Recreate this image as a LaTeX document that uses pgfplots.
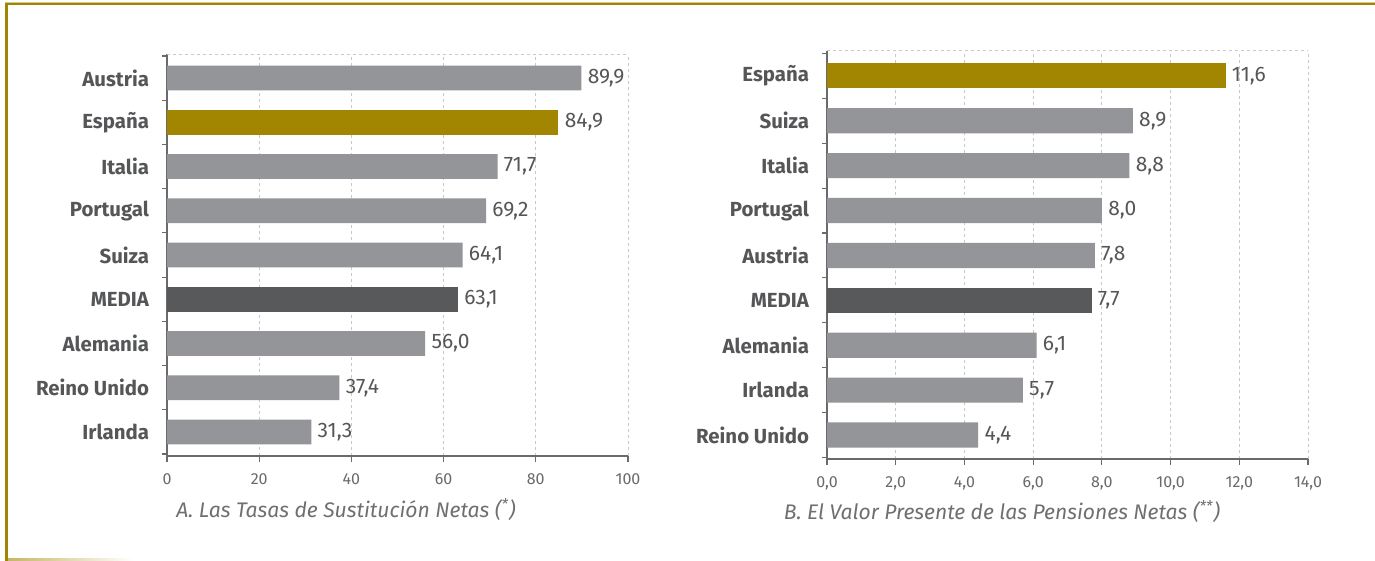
\documentclass[border=0pt]{standalone}
\usepackage{fontspec}
\setmainfont{Fira Sans}
\usepackage{pgfplots}
\pgfplotsset{compat=1.18}
\definecolor{gold}{RGB}{162,133,0}
\definecolor{bargray}{RGB}{147,149,152}
\definecolor{bardark}{RGB}{88,89,91}
\definecolor{txtgray}{RGB}{85,86,88}
\definecolor{axgray}{RGB}{105,106,108}
\definecolor{capgray}{RGB}{110,111,113}
\definecolor{gridgray}{RGB}{200,200,200}
\pgfplotsset{
  bstyle/.style={
    scale only axis, anchor=south west,
    xbar, bar width=0.56, bar shift=0pt,
    axis x line*=bottom, axis y line*=left,
    axis line style={axgray, line width=0.7pt},
    tick align=outside,
    major tick length=3pt, minor tick length=2.5pt,
    tick style={axgray, line width=0.6pt},
    every major y tick/.append style={draw=none},
    ytick={0,...,8},
    minor ytick={-0.5,0.5,...,8.5},
    xmajorgrids,
    grid style={gridgray, dash pattern=on 1.5pt off 1.5pt, line width=0.5pt},
    yticklabel style={font=\bfseries\fontsize{10.2}{12}\selectfont, text=txtgray, xshift=-2.5pt},
    xticklabel style={font=\fontsize{8}{9}\selectfont, text=axgray, yshift=-2.5pt},
    /pgf/number format/assume math mode=true,
    point meta=x,
    nodes near coords={\pgfmathprintnumber[fixed,fixed zerofill,precision=1,use comma]{\pgfplotspointmeta}},
    nodes near coords style={font=\fontsize{10.5}{12}\selectfont, text=txtgray, anchor=west, inner xsep=3pt},
    clip=false,
  }
}
\begin{document}
\begin{tikzpicture}
\useasboundingbox (0pt,0pt) rectangle (687.5pt,280.5pt);
\fill[white] (0pt,0pt) rectangle (687.5pt,280.5pt);
% frame
\fill[gold] (2.5pt,278pt) rectangle (687.5pt,279pt);
\fill[gold!45] (2.5pt,279pt) rectangle (687.5pt,279.5pt);
\fill[gold] (2.5pt,0pt) rectangle (4pt,279pt);
\shade[left color=gold!60, right color=white] (4pt,0.3pt) rectangle (66.5pt,1.3pt);

% ---------- Chart A ----------
\begin{axis}[bstyle,
  at={(83.5pt,52.5pt)}, width=230.5pt, height=201pt,
  xmin=0, xmax=100, ymin=-0.545, ymax=8.545,
  xtick={0,20,...,100},
  yticklabels={Irlanda,Reino Unido,Alemania,MEDIA,Suiza,Portugal,Italia,España,Austria},
]
\addplot[fill=bargray, draw=none] coordinates {
  (31.3,0) (37.4,1) (56.0,2) (64.1,4) (69.2,5) (71.7,6) (89.9,8)};
\addplot[fill=bardark, draw=none] coordinates {(63.1,3)};
\addplot[fill=gold, draw=none] coordinates {(84.9,7)};
\draw[gridgray, dash pattern=on 1.5pt off 1.5pt, line width=0.5pt]
  (axis description cs:0,1) -- (axis description cs:1,1);
\end{axis}

% ---------- Chart B ----------
\begin{axis}[bstyle,
  at={(413.5pt,51pt)}, width=240.5pt, height=204pt,
  xmin=0, xmax=14, ymin=-0.535, ymax=8.555,
  xtick={0,2,...,14},
  xticklabel={\pgfmathprintnumber[fixed,fixed zerofill,precision=1,use comma]{\tick}},
  yticklabels={Reino Unido,Irlanda,Alemania,MEDIA,Austria,Portugal,Italia,Suiza,España},
]
\addplot[fill=bargray, draw=none] coordinates {
  (4.4,0) (5.7,1) (6.1,2) (7.8,4) (8.0,5) (8.8,6) (8.9,7)};
\addplot[fill=bardark, draw=none] coordinates {(7.7,3)};
\addplot[fill=gold, draw=none] coordinates {(11.6,8)};
\draw[gridgray, dash pattern=on 1.5pt off 1.5pt, line width=0.5pt]
  (axis description cs:0,1) -- (axis description cs:1,1);
\end{axis}

% captions
\node[font=\itshape\fontsize{10.55}{13}\selectfont, text=capgray] at (173pt,25.5pt) {A. Las Tasas de Sustitución Netas (\textsuperscript{*})};
\node[font=\itshape\fontsize{10.55}{13}\selectfont, text=capgray] at (501pt,24.5pt) {B. El Valor Presente de las Pensiones Netas (\textsuperscript{**})};
\end{tikzpicture}
\end{document}
